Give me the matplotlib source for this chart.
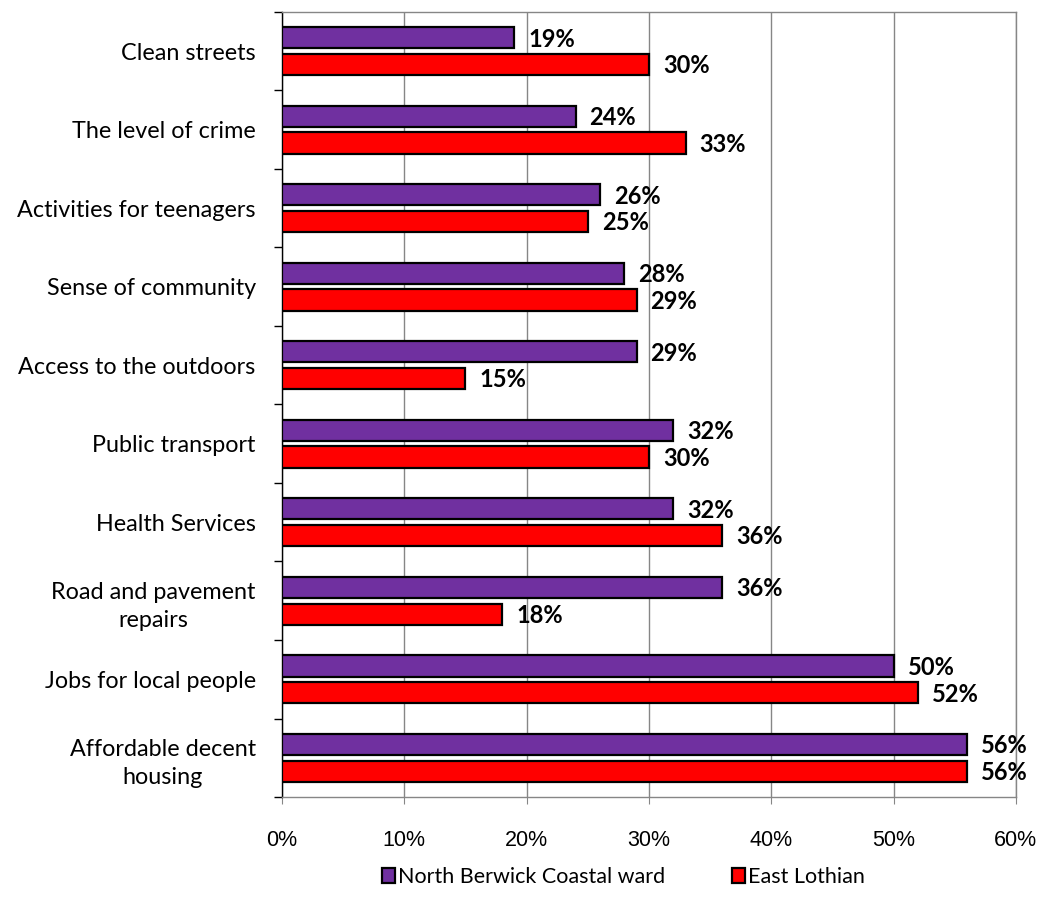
import numpy as np
import matplotlib.pyplot as plt
import matplotlib as mpl
from matplotlib.patches import Patch

# data
categories = ["Clean streets", "The level of crime", "Activities for teenagers",
              "Sense of community", "Access to the outdoors", "Public transport",
              "Health Services", "Road and pavement\nrepairs", "Jobs for local people",
              "Affordable decent\nhousing"]
ward_vals = [19, 24, 26, 28, 29, 32, 32, 36, 50, 56]
east_vals = [30, 33, 25, 29, 15, 30, 36, 18, 52, 56]
series_names = ["North Berwick Coastal ward", "East Lothian"]
xticks = [0, 10, 20, 30, 40, 50, 60]

purple = "#7030A0"
red = "#FF0000"
grey = "#868686"

mpl.rcParams.update({"font.family": ["Lato", "DejaVu Sans"]})

fig = plt.figure(figsize=(10.43, 9.13), dpi=100)
ax = fig.add_axes([0.2704, 0.127, 0.7036, 0.860])

y = np.arange(len(categories))
h = 0.27
off = 0.17
ax.barh(y - off, ward_vals, height=h, color=purple, edgecolor="black", lw=1.6, zorder=3)
ax.barh(y + off, east_vals, height=h, color=red, edgecolor="black", lw=1.6, zorder=3)

for yi, v in zip(y, ward_vals):
    ax.annotate(f"{v}%", (v, yi - off), xytext=(10, -1), textcoords="offset points",
                va="center", ha="left", fontsize=17, fontweight="bold")
for yi, v in zip(y, east_vals):
    ax.annotate(f"{v}%", (v, yi + off), xytext=(10, -1), textcoords="offset points",
                va="center", ha="left", fontsize=17, fontweight="bold")

ax.set_xlim(0, 60)
ax.set_ylim(len(categories) - 0.5, -0.5)
ax.set_xticks(xticks)
ax.set_xticklabels([f"{t}%" for t in xticks], fontsize=15.5, family="Liberation Sans")
ax.tick_params(axis="x", length=5, color=grey, pad=19)

ax.set_yticks(y)
ax.set_yticklabels(categories, fontsize=16.8, linespacing=1.45)
ax.set_yticks(np.arange(len(categories) + 1) - 0.5, minor=True)
ax.tick_params(axis="y", which="major", length=0, pad=19)
ax.tick_params(axis="y", which="minor", length=6, color="black", width=1)
for lab in ax.get_yticklabels():
    lab.set_horizontalalignment("right")
    lab.set_multialignment("center")

ax.grid(axis="x", color=grey, lw=1, zorder=0)
ax.spines["left"].set_color("black")
ax.spines["left"].set_linewidth(1)
for s in ["top", "right", "bottom"]:
    ax.spines[s].set_color(grey)
    ax.spines[s].set_linewidth(1)

handles = [Patch(facecolor=purple, edgecolor="black", lw=1.6),
           Patch(facecolor=red, edgecolor="black", lw=1.6)]
fig.legend(handles, series_names, loc="center", bbox_to_anchor=(0.598, 0.039),
           ncol=2, frameon=False, fontsize=15.5, handlelength=0.6, handleheight=0.7,
           handletextpad=0.15, columnspacing=3.1)

fig.savefig("out.png", dpi=100)
